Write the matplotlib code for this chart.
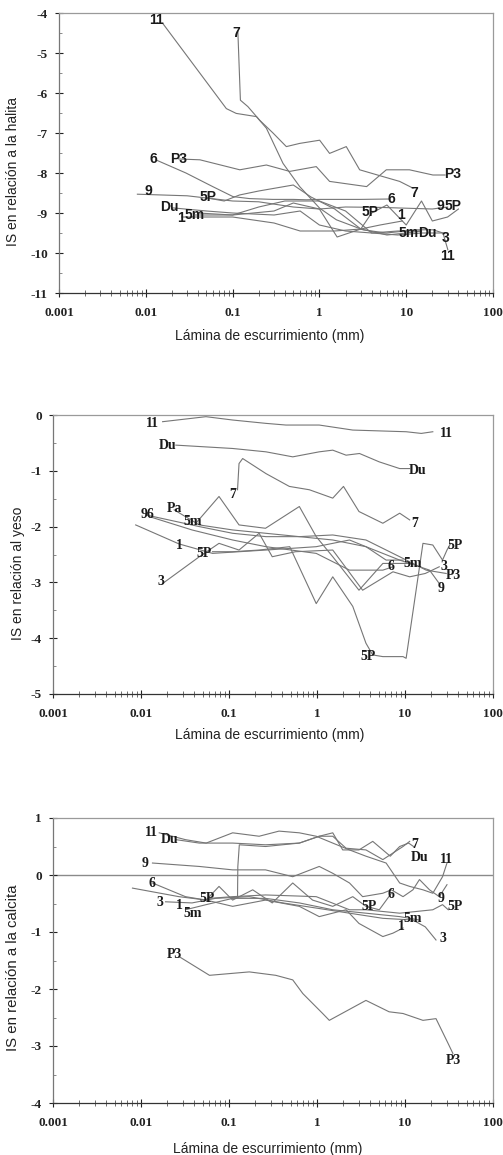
import matplotlib
matplotlib.use("Agg")
import matplotlib.pyplot as plt
from matplotlib.ticker import FixedLocator, FuncFormatter, LogLocator, MultipleLocator

# ---------------- data: panel 1 (halita) ----------------
HAL_X = {
    "11": [0.0158, 0.0847, 0.110, 0.188, 0.245, 0.381, 0.593, 1.007, 1.57, 3.18, 5.9, 13.1, 20.4, 26.5, 30.2],
    "7":  [0.115, 0.123, 0.150, 0.205, 0.292, 0.416, 0.593, 1.007, 1.31, 2.04, 2.91, 5.4, 8.4, 12.0],
    "P3": [0.024, 0.042, 0.121, 0.245, 0.455, 0.92, 1.31, 3.5, 5.9, 10.9, 20.3, 28.0],
    "6":  [0.013, 0.029, 0.059, 0.101, 0.157, 0.29, 0.50, 0.71, 1.0, 3.0, 6.5],
    "9":  [0.008, 0.03, 0.1, 0.2, 0.5, 1.0, 2.0, 5.0, 10.0, 20.0, 30.0],
    "5P": [0.05, 0.08, 0.12, 0.2, 0.5, 0.8, 1.5, 3.0, 4.0, 6.0, 10.0, 15.0, 20.0, 30.0, 40.0],
    "Du": [0.02, 0.05, 0.1, 0.3, 0.6, 1.0, 2.0, 4.0, 8.0, 15.0],
    "1":  [0.026, 0.1, 0.3, 0.6, 1.5, 3.0, 5.0, 9.0],
    "5m": [0.037, 0.1, 0.3, 0.5, 1.0, 1.6, 3.0, 6.0, 10.0, 15.0],
    "3":  [0.04, 0.1, 0.2, 0.4, 1.0, 2.0, 4.0, 8.0, 15.0, 28.0],
}
HAL_Y = {
    "11": [-4.27, -6.39, -6.51, -6.59, -6.88, -7.76, -8.34, -8.88, -9.17, -9.42, -9.50, -9.42, -9.42, -9.50, -9.92],
    "7":  [-4.47, -6.18, -6.34, -6.68, -7.00, -7.34, -7.26, -7.18, -7.51, -7.34, -7.92, -8.09, -8.21, -8.38],
    "P3": [-7.65, -7.67, -7.92, -7.80, -7.96, -7.84, -8.21, -8.34, -7.92, -7.92, -8.05, -8.05],
    "6":  [-7.67, -8.00, -8.34, -8.59, -8.64, -8.66, -8.66, -8.67, -8.66, -8.66, -8.65],
    "9":  [-8.53, -8.57, -8.70, -8.72, -8.85, -8.90, -8.85, -8.86, -8.88, -8.90, -8.85],
    "5P": [-8.62, -8.70, -8.55, -8.45, -8.30, -8.60, -8.90, -9.40, -9.00, -8.80, -9.30, -8.70, -9.20, -9.10, -8.90],
    "Du": [-8.87, -8.95, -9.00, -9.05, -8.95, -9.30, -9.45, -9.50, -9.45, -9.45],
    "1":  [-9.10, -9.10, -9.25, -9.45, -9.45, -9.40, -9.30, -9.20],
    "5m": [-9.05, -9.05, -8.95, -8.75, -8.90, -9.60, -9.40, -9.55, -9.50, -9.45],
    "3":  [-9.00, -9.05, -8.85, -8.70, -8.70, -8.95, -9.50, -9.55, -9.50, -9.50],
}
HAL_LABELS = [
    ("11", 0.0132, -4.18), ("7", 0.110, -4.49), ("6", 0.0123, -7.65), ("P3", 0.0239, -7.65),
    ("9", 0.0106, -8.46), ("5P", 0.052, -8.60), ("Du", 0.0188, -8.85), ("1", 0.0257, -9.13),
    ("5m", 0.0365, -9.05), ("P3", 34.6, -8.02), ("7", 12.5, -8.49), ("6", 6.7, -8.65),
    ("9", 25.0, -8.82), ("5P", 35.0, -8.82), ("5P", 3.8, -8.98), ("1", 8.8, -9.06),
    ("5m", 10.8, -9.50), ("Du", 17.5, -9.50), ("3", 28.5, -9.62), ("11", 30.3, -10.07),
]

# ---------------- data: panel 2 (yeso) ----------------
YES_X = {
    "11": [0.0176, 0.0547, 0.110, 0.263, 0.444, 1.06, 2.55, 10.3, 15.3, 20.7],
    "Du": [0.0249, 0.110, 0.263, 0.53, 1.06, 1.51, 2.14, 3.04, 5.1, 8.7, 11.3],
    "7":  [0.125, 0.13, 0.143, 0.263, 0.485, 0.82, 1.51, 2.0, 3.0, 5.6, 8.7, 11.3],
    "P3": [0.0238, 0.046, 0.110, 0.263, 0.63, 1.51, 3.6, 8.7, 17.4, 29.4],
    "9":  [0.0113, 0.046, 0.110, 0.263, 0.63, 1.51, 3.6, 8.7, 19.0, 24.5],
    "6":  [0.0124, 0.038, 0.110, 0.263, 0.98, 2.34, 5.6, 7.3],
    "5m": [0.042, 0.077, 0.13, 0.26, 0.63, 0.98, 1.51, 3.0, 5.6, 12.3],
    "1":  [0.0087, 0.027, 0.065, 0.263, 0.98, 2.34, 3.6, 6.1, 9.5],
    "5P": [0.065, 0.110, 0.22, 0.49, 0.98, 1.51, 2.55, 3.6, 4.3, 5.6, 9.5, 10.3, 16.0, 20.7, 26.7, 30.0, 33.0],
    "3":  [0.0176, 0.046, 0.077, 0.13, 0.22, 0.31, 0.57, 1.51, 3.3, 7.3, 11.3, 17.0, 24.5],
}
YES_Y = {
    "11": [-0.12, -0.03, -0.09, -0.15, -0.18, -0.18, -0.27, -0.30, -0.33, -0.30],
    "Du": [-0.54, -0.60, -0.66, -0.75, -0.66, -0.63, -0.72, -0.69, -0.84, -0.96, -0.96],
    "7":  [-1.34, -0.87, -0.78, -1.05, -1.28, -1.34, -1.49, -1.28, -1.73, -1.94, -1.76, -1.88],
    "P3": [-1.70, -1.97, -2.06, -2.12, -2.18, -2.15, -2.24, -2.54, -2.78, -2.84],
    "9":  [-1.79, -2.00, -2.12, -2.18, -2.18, -2.24, -2.36, -2.60, -2.78, -3.02],
    "6":  [-1.82, -2.06, -2.24, -2.36, -2.48, -2.78, -2.78, -2.72],
    "5m": [-1.94, -1.46, -1.97, -2.03, -1.64, -2.18, -2.54, -3.14, -2.66, -2.66],
    "1":  [-1.97, -2.31, -2.48, -2.42, -2.36, -2.24, -2.36, -2.60, -2.60],
    "5P": [-2.45, -2.45, -2.42, -2.36, -3.38, -2.90, -3.43, -4.09, -4.30, -4.33, -4.33, -4.36, -2.30, -2.33, -2.60, -2.42, -2.30],
    "3":  [-3.02, -2.54, -2.30, -2.42, -2.12, -2.54, -2.45, -2.42, -3.14, -2.81, -2.90, -2.84, -2.72],
}
YES_LABELS = [
    ("11", 0.0135, -0.15), ("Du", 0.020, -0.54), ("7", 0.110, -1.43), ("Pa", 0.0238, -1.67),
    ("96", 0.0119, -1.79), ("5m", 0.0385, -1.91), ("1", 0.0272, -2.33), ("5P", 0.052, -2.48),
    ("3", 0.0168, -2.99), ("11", 29.4, -0.33), ("Du", 14.0, -0.99), ("7", 12.8, -1.94),
    ("5P", 36.6, -2.33), ("6", 7.0, -2.72), ("5m", 12.3, -2.66), ("3", 27.9, -2.72),
    ("P3", 35.2, -2.87), ("9", 25.8, -3.11), ("5P", 3.78, -4.33),
]

# ---------------- data: panel 3 (calcita) ----------------
CAL_X = {
    "11": [0.0161, 0.032, 0.055, 0.110, 0.22, 0.37, 0.63, 0.98, 1.51, 2.34, 3.6, 6.1, 8.7, 11.3, 16.0, 20.7, 26.7, 30.0],
    "Du": [0.025, 0.046, 0.110, 0.26, 0.63, 1.06, 1.51, 1.96, 3.0, 4.3, 6.8, 8.7, 11.0, 12.5],
    "7":  [0.125, 0.126, 0.131, 0.26, 0.63, 1.06, 1.51, 2.14, 3.6, 5.6, 9.5, 11.3],
    "9":  [0.0135, 0.046, 0.110, 0.26, 0.53, 1.06, 1.51, 2.34, 3.3, 5.6, 7.0, 9.5, 12.3, 14.6, 19.0, 24.5, 30.0],
    "6":  [0.0135, 0.032, 0.055, 0.077, 0.110, 0.186, 0.31, 0.53, 0.89, 1.51, 2.55, 3.6, 5.1, 7.0],
    "3":  [0.019, 0.038, 0.070, 0.17, 0.41, 0.98, 2.34, 5.6, 12.3, 17.0, 22.5],
    "1":  [0.008, 0.027, 0.055, 0.110, 0.26, 0.63, 1.06, 2.14, 3.0, 5.6, 7.3, 9.5],
    "5m": [0.032, 0.055, 0.110, 0.26, 0.63, 1.51, 3.6, 8.7, 14.6],
    "5P": [0.060, 0.110, 0.26, 0.98, 2.34, 3.6, 8.7, 20.7, 26.7, 31.0],
    "P3": [0.027, 0.060, 0.17, 0.34, 0.53, 0.69, 1.16, 1.38, 3.6, 6.6, 9.5, 16.0, 22.5, 31.0, 35.0],
}
CAL_Y = {
    "11": [0.74, 0.62, 0.56, 0.74, 0.68, 0.77, 0.74, 0.68, 0.56, 0.44, 0.33, 0.21, -0.14, -0.20, -0.26, -0.32, -0.03, 0.21],
    "Du": [0.62, 0.56, 0.56, 0.53, 0.56, 0.68, 0.74, 0.44, 0.44, 0.59, 0.33, 0.50, 0.56, 0.50],
    "7":  [-0.38, 0.15, 0.53, 0.50, 0.56, 0.68, 0.68, 0.47, 0.44, 0.27, 0.50, 0.59],
    "9":  [0.21, 0.15, 0.09, 0.09, -0.03, 0.15, 0.03, -0.14, -0.38, -0.32, -0.26, -0.38, -0.26, -0.08, -0.26, -0.38, -0.17],
    "6":  [-0.14, -0.38, -0.44, -0.20, -0.44, -0.26, -0.49, -0.14, -0.44, -0.55, -0.38, -0.55, -0.61, -0.32],
    "3":  [-0.47, -0.49, -0.41, -0.38, -0.49, -0.58, -0.67, -0.76, -0.79, -0.91, -1.14],
    "1":  [-0.23, -0.38, -0.44, -0.55, -0.44, -0.55, -0.73, -0.61, -0.85, -1.08, -1.02, -0.93],
    "5m": [-0.61, -0.52, -0.41, -0.41, -0.49, -0.61, -0.67, -0.73, -0.79],
    "5P": [-0.41, -0.38, -0.35, -0.38, -0.61, -0.61, -0.67, -0.61, -0.52, -0.61],
    "P3": [-1.43, -1.76, -1.70, -1.76, -1.84, -2.08, -2.43, -2.55, -2.20, -2.40, -2.43, -2.55, -2.52, -2.96, -3.13],
}
CAL_LABELS = [
    ("11", 0.0133, 0.74), ("Du", 0.0209, 0.62), ("9", 0.0111, 0.21), ("6", 0.0133, -0.15),
    ("3", 0.0165, -0.48), ("1", 0.0272, -0.54), ("5m", 0.0385, -0.67), ("5P", 0.057, -0.41),
    ("P3", 0.0238, -1.40), ("7", 12.8, 0.53), ("Du", 14.6, 0.30), ("11", 29.4, 0.27),
    ("6", 7.0, -0.35), ("9", 25.8, -0.41), ("5P", 36.6, -0.55), ("5P", 3.9, -0.55),
    ("5m", 12.3, -0.76), ("1", 9.1, -0.91), ("3", 27.0, -1.11), ("P3", 35.1, -3.25),
]

XTICKS = [0.001, 0.01, 0.1, 1, 10, 100]
XTICK_LABELS = ["0.001", "0.01", "0.1", "1", "10", "100"]
XLABEL = "Lámina de escurrimiento (mm)"
YLABELS = ["IS en relación a la halita", "IS en relación al yeso", "IS en relación a la calcita"]
YLIMS = [(-11, -4), (-5, 0), (-4, 1)]

SERIF = ["Liberation Serif", "DejaVu Serif"]
SANS = ["Liberation Sans", "DejaVu Sans"]

W, H = 503, 1155
fig = plt.figure(figsize=(W / 100, H / 100), dpi=100)
fig.patch.set_facecolor("white")

# axes rectangles in pixels: left, top, right, bottom
rects = [(59, 13, 493, 293), (53, 415, 493, 694), (53, 818, 493, 1103)]
ylab_pos = [(13, 172), (18, 573), (13, 968)]
ylab_size = [10, 10, 10.8]
xlab_pos = [(270, 336), (270, 735), (268, 1149)]
panels = [(HAL_X, HAL_Y, HAL_LABELS), (YES_X, YES_Y, YES_LABELS), (CAL_X, CAL_Y, CAL_LABELS)]

for i, ((l, t, r, b), (SX, SY, LAB)) in enumerate(zip(rects, panels)):
    ax = fig.add_axes([l / W, 1 - b / H, (r - l) / W, (b - t) / H])
    ax.set_xscale("log")
    ax.set_xlim(0.001, 100)
    ax.set_ylim(*YLIMS[i])
    for name in SX:
        ax.plot(SX[name], SY[name], color="#767676", lw=0.8, zorder=2)
    if i == 2:
        ax.axhline(0, color="#8a8a8a", lw=1.0, zorder=1)
    lab_font = SANS if i == 0 else SERIF
    for txt, x, y in LAB:
        ax.text(x, y, txt, ha="center", va="center", fontsize=10, fontweight="bold",
                family=lab_font, color="#1a1a1a", zorder=3)
    ax.xaxis.set_major_locator(FixedLocator(XTICKS))
    ax.xaxis.set_major_formatter(FuncFormatter(lambda v, p: XTICK_LABELS[XTICKS.index(v)] if v in XTICKS else ""))
    ax.xaxis.set_minor_locator(LogLocator(base=10, subs=range(2, 10), numticks=20))
    ax.yaxis.set_major_locator(MultipleLocator(1))
    ax.yaxis.set_minor_locator(MultipleLocator(0.5))
    ax.yaxis.set_major_formatter(FuncFormatter(lambda v, p: "%d" % round(v)))
    ax.tick_params(axis="x", which="major", direction="inout", length=6, width=0.8, pad=7, colors="#222")
    ax.tick_params(axis="x", which="minor", direction="inout", length=4, width=0.6, colors="#555")
    ax.tick_params(axis="y", which="major", direction="inout", length=6, width=0.8, pad=5, colors="#222")
    ax.tick_params(axis="y", which="minor", direction="in", length=2.5, width=0.6, colors="#777")
    for lbl in ax.get_xticklabels() + ax.get_yticklabels():
        lbl.set_family(SERIF)
        lbl.set_fontweight("bold")
        lbl.set_fontsize(9.5)
    for side in ["top", "right", "left"]:
        ax.spines[side].set_color("#9a9a9a")
        ax.spines[side].set_linewidth(0.9)
    ax.spines["left"].set_color("#777")
    ax.spines["bottom"].set_color("#333")
    ax.spines["bottom"].set_linewidth(0.9)
    fig.text(ylab_pos[i][0] / W, 1 - ylab_pos[i][1] / H, YLABELS[i], rotation=90,
             ha="center", va="center", fontsize=ylab_size[i], family=SANS, color="#222")
    fig.text(xlab_pos[i][0] / W, 1 - xlab_pos[i][1] / H, XLABEL,
             ha="center", va="center", fontsize=10, family=SANS, color="#222")

fig.savefig("out.png", dpi=100)
